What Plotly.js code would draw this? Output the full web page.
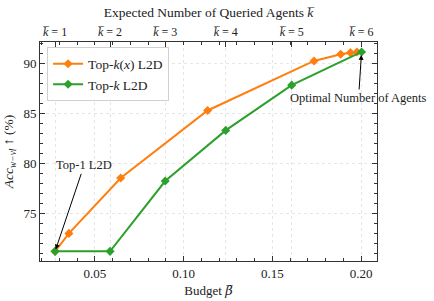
<!DOCTYPE html>
<html><head><meta charset="utf-8">
<script src="https://cdn.plot.ly/plotly-3.0.1.min.js"></script>
<style>body{margin:0;padding:0;background:#fff}#plot{width:434px;height:301px}</style>
</head><body><div id="plot"></div>
<script>
const orangeBudget = [0.0275, 0.0353, 0.0645, 0.1135, 0.1735, 0.1885, 0.194, 0.1977];
const orangeAcc    = [71.2, 73.0, 78.55, 85.33, 90.3, 90.97, 91.13, 91.2];
const greenBudget  = [0.0275, 0.0585, 0.0896, 0.1237, 0.1609, 0.2003];
const greenAcc     = [71.2, 71.2, 78.25, 83.33, 87.87, 91.2];
const topTickVals  = greenBudget;
const topTickText  = ['<i>k̅</i> = 1','<i>k̅</i> = 2','<i>k̅</i> = 3','<i>k̅</i> = 4','<i>k̅</i> = 5','<i>k̅</i> = 6'];
const seriesNames  = ['Top-<i>k</i>(<i>x</i>) L2D', 'Top-<i>k</i> L2D'];

const FONT = 'Liberation Serif, DejaVu Serif, serif';
const traces = [
  {x: orangeBudget, y: orangeAcc, name: seriesNames[0], mode: 'lines+markers',
   line: {color: '#ff7f0e', width: 2}, marker: {symbol: 'diamond', size: 7, color: '#ff7f0e'}},
  {x: greenBudget, y: greenAcc, name: seriesNames[1], mode: 'lines+markers',
   line: {color: '#2ca02c', width: 2}, marker: {symbol: 'diamond', size: 7, color: '#2ca02c'}},
  {x: greenBudget, y: greenAcc, xaxis: 'x2', yaxis: 'y', mode: 'lines', line: {width: 0},
   opacity: 0, showlegend: false, hoverinfo: 'skip'}
];
const axCommon = {
  showline: true, linecolor: '#333', linewidth: 1, mirror: false,
  ticks: 'inside', ticklen: 5, tickcolor: '#333', tickwidth: 1,
  showgrid: true, gridcolor: '#e6e6e6', griddash: 'dot', gridwidth: 1,
  zeroline: false, tickfont: {family: FONT, size: 13, color: '#222'}
};
const layout = {
  width: 434, height: 301,
  margin: {l: 40, r: 57, t: 42, b: 40},
  paper_bgcolor: '#fff', plot_bgcolor: '#fff',
  font: {family: FONT, color: '#222'},
  showlegend: true,
  legend: {x: 0.021, y: 0.975, xanchor: 'left', yanchor: 'top',
           bgcolor: 'rgba(255,255,255,0.9)', bordercolor: '#d0d0d0', borderwidth: 1,
           font: {family: FONT, size: 13.5, color: '#222'}, tracegroupgap: 0},
  xaxis: Object.assign({}, axCommon, {
    range: [0.019, 0.209], tickvals: [0.05, 0.10, 0.15, 0.20], ticktext: ['0.05','0.10','0.15','0.20'],
    minor: {dtick: 0.01, ticks: 'inside', ticklen: 3, tickcolor: '#333', showgrid: false},
    title: {text: 'Budget <span style="font-family:DejaVu Serif"><i>β̅</i></span>', font: {family: FONT, size: 13, color: '#222'}, standoff: 6}
  }),
  xaxis2: Object.assign({}, axCommon, {
    overlaying: 'x', side: 'top', range: [0.019, 0.209], showgrid: true,
    tickvals: topTickVals, ticktext: topTickText,
    minor: {dtick: 0.01, ticks: 'inside', ticklen: 3, tickcolor: '#333', showgrid: false},
    tickfont: {family: FONT, size: 12, color: '#222'},
    title: {text: 'Expected Number of Queried Agents <i>k̅</i>', font: {family: FONT, size: 13.5, color: '#222'}, standoff: 4}
  }),
  yaxis: Object.assign({}, axCommon, {
    range: [70.23, 92.2], tickvals: [75, 80, 85, 90], mirror: 'ticks',
    minor: {dtick: 1, ticks: 'inside', ticklen: 3, tickcolor: '#333', showgrid: false},
    title: {text: '<i>Acc</i><sub><i>w−vl</i></sub> ↑ (%)', font: {family: FONT, size: 13.5, color: '#222'}, standoff: 6}
  }),
  annotations: [
    {x: 0.0275, y: 71.2, xref: 'x', yref: 'y', text: 'Top-1 L2D', showarrow: true,
     ax: 29, ay: -86, arrowhead: 2, arrowsize: 1, arrowwidth: 1, arrowcolor: '#000', standoff: 2,
     font: {family: FONT, size: 12.5, color: '#222'}},
    {x: 0.2003, y: 91.2, xref: 'x', yref: 'y', text: 'Optimal Number of Agents', showarrow: true,
     ax: -3, ay: 46, arrowhead: 2, arrowsize: 1, arrowwidth: 1, arrowcolor: '#000', standoff: 3,
     font: {family: FONT, size: 12.5, color: '#222'}}
  ]
};
Plotly.newPlot('plot', traces, layout, {displayModeBar: false, staticPlot: true});
</script></body></html>
